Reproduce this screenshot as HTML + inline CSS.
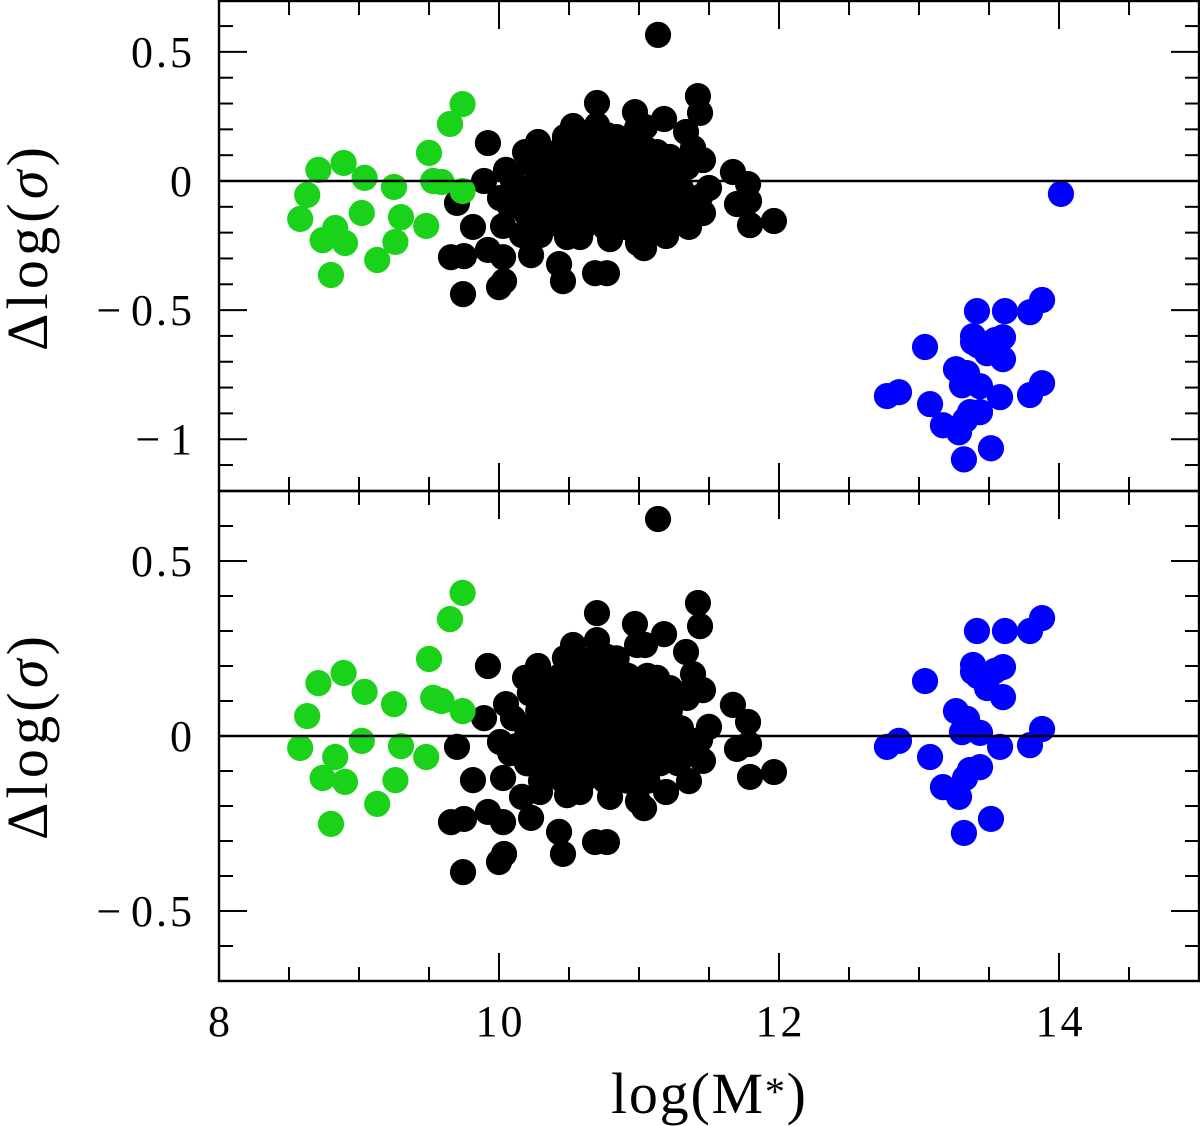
<!DOCTYPE html>
<html>
<head>
<meta charset="utf-8">
<title>Delta log sigma vs log stellar mass</title>
<style>
html,body{margin:0;padding:0;background:#fff;}
svg{display:block;font-family:"Liberation Serif","DejaVu Serif",serif;}
</style>
</head>
<body>
<svg id="chart" width="1200" height="1126" viewBox="0 0 1200 1126" xmlns="http://www.w3.org/2000/svg"></svg>
<script>
const xMajorTicks = [8, 10, 12, 14];
const xMinorTicks = [8.5, 9, 9.5, 10.5, 11, 11.5, 12.5, 13, 13.5, 14.5];
const xTickLabels = ["8", "10", "12", "14"];
const topMajorTicks = [0.5, 0, -0.5, -1];
const topTickLabels = ["0.5", "0", "\u2212\u200A0.5", "\u2212\u200A1"];
const topMinorTicks = [0.6, 0.4, 0.3, 0.2, 0.1, -0.1, -0.2, -0.3, -0.4, -0.6, -0.7, -0.8, -0.9, -1.1];
const bottomMajorTicks = [0.5, 0, -0.5];
const bottomTickLabels = ["0.5", "0", "\u2212\u200A0.5"];
const bottomMinorTicks = [0.6, 0.4, 0.3, 0.2, 0.1, -0.1, -0.2, -0.3, -0.4, -0.6];

const greenX = [8.58, 8.63, 8.71, 8.89, 9.04, 9.25, 9.5, 9.53, 9.59, 9.74, 9.65, 9.74, 9.02, 9.30, 9.48, 9.26, 9.13, 8.9, 8.74, 8.83, 8.8];
const greenTopY = [-0.147, -0.054, 0.043, 0.07, 0.012, -0.023, 0.109, 0, -0.004, -0.039, 0.221, 0.298, -0.124, -0.14, -0.174, -0.236, -0.306, -0.24, -0.229, -0.182, -0.364];
const greenBottomY = [-0.034, 0.057, 0.151, 0.18, 0.126, 0.091, 0.22, 0.109, 0.1, 0.071, 0.334, 0.409, -0.014, -0.029, -0.06, -0.126, -0.194, -0.131, -0.12, -0.06, -0.251];

const blueX = [13.414, 13.614, 13.793, 13.879, 13.386, 13.386, 13.6, 13.543, 13.471, 13.421, 13.486, 13.6, 13.043, 13.264, 13.343, 13.307, 13.436, 13.579, 13.879, 13.793, 12.857, 12.771, 13.079, 13.436, 13.364, 13.329, 13.171, 13.286, 13.514, 13.321, 14.014];
const blueTopY = [-0.504, -0.504, -0.508, -0.461, -0.601, -0.624, -0.605, -0.616, -0.643, -0.636, -0.667, -0.69, -0.643, -0.729, -0.744, -0.791, -0.795, -0.837, -0.783, -0.829, -0.818, -0.833, -0.864, -0.895, -0.895, -0.926, -0.946, -0.973, -1.035, -1.078, -0.05];
const blueBottomY = [0.3, 0.3, 0.3, 0.337, 0.203, 0.183, 0.197, 0.186, 0.16, 0.171, 0.137, 0.111, 0.157, 0.071, 0.049, 0.011, 0.009, -0.031, 0.02, -0.026, -0.014, -0.031, -0.06, -0.089, -0.097, -0.12, -0.146, -0.174, -0.237, -0.277, null];

const blackX = [11.136, 10.70, 10.971, 10.986, 11.043, 11.179, 11.421, 11.436, 11.336, 11.386, 11.457, 11.343, 11.129, 11.221, 9.921, 10.186, 10.279, 10.05, 9.893, 9.7, 10.007, 9.814, 10.029, 9.657, 9.75, 9.921, 10.029, 10.229, 10.429, 10.457, 10.686, 10.771, 9.743, 10.036, 10.0, 11.671, 11.779, 11.5, 11.436, 11.7, 11.786, 11.457, 11.793, 11.964, 11.357, 11.193, 11.036, 10.993, 10.793, 10.486, 10.579, 10.293, 10.164, 10.529, 10.7, 10.471, 10.771, 10.843, 10.957,
  10.52, 10.68, 10.84,
  10.3, 10.44, 10.6, 10.76, 10.92, 11.06,
  10.22, 10.38, 10.53, 10.69, 10.85, 11.0, 11.16, 11.27,
  10.1, 10.28, 10.45, 10.61, 10.77, 10.93, 11.08, 11.22,
  10.2, 10.36, 10.52, 10.68, 10.84, 11.0, 11.15, 11.3,
  10.08, 10.13, 10.27, 10.44, 10.6, 10.76, 10.92, 11.08, 11.23, 11.33,
  10.2, 10.36, 10.52, 10.68, 10.84, 11.0, 11.15, 11.28,
  10.3, 10.46, 10.6, 10.76, 10.92, 11.06];
const blackTopY = [0.566, 0.302, 0.267, 0.205, 0.209, 0.24, 0.329, 0.264, 0.19, 0.128, 0.081, 0.054, 0.112, 0.093, 0.147, 0.112, 0.151, 0.043, 0, -0.085, -0.066, -0.178, -0.174, -0.295, -0.291, -0.267, -0.295, -0.287, -0.322, -0.388, -0.357, -0.357, -0.438, -0.388, -0.411, 0.035, -0.012, -0.027, -0.062, -0.089, -0.078, -0.124, -0.171, -0.155, -0.178, -0.213, -0.26, -0.24, -0.225, -0.217, -0.217, -0.209, -0.209, 0.213, 0.217, 0.171, 0.178, 0.14, 0.112,
  0.17, 0.17, 0.17,
  0.12, 0.12, 0.12, 0.12, 0.12, 0.12,
  0.07, 0.07, 0.07, 0.07, 0.07, 0.07, 0.07, 0.07,
  0.0, 0.02, 0.02, 0.02, 0.02, 0.02, 0.02, 0.02,
  -0.03, -0.03, -0.03, -0.03, -0.03, -0.03, -0.03, -0.03,
  -0.1, -0.08, -0.08, -0.08, -0.08, -0.08, -0.08, -0.08, -0.08, -0.08,
  -0.13, -0.13, -0.13, -0.13, -0.13, -0.13, -0.13, -0.13,
  -0.18, -0.18, -0.18, -0.18, -0.18, -0.18];
const blackBottomY = [0.62, 0.351, 0.32, 0.26, 0.26, 0.291, 0.38, 0.314, 0.24, 0.177, 0.131, 0.109, 0.166, 0.137, 0.2, 0.166, 0.2, 0.091, 0.051, -0.031, -0.017, -0.126, -0.12, -0.246, -0.237, -0.217, -0.246, -0.234, -0.274, -0.337, -0.303, -0.303, -0.389, -0.337, -0.36, 0.089, 0.04, 0.026, -0.011, -0.037, -0.023, -0.071, -0.117, -0.103, -0.129, -0.16, -0.206, -0.186, -0.174, -0.169, -0.16, -0.16, -0.174, 0.26, 0.274, 0.223, 0.226, 0.197, 0.16,
  0.222, 0.222, 0.222,
  0.172, 0.172, 0.172, 0.172, 0.172, 0.172,
  0.122, 0.122, 0.122, 0.122, 0.122, 0.122, 0.122, 0.122,
  0.051, 0.072, 0.072, 0.072, 0.072, 0.072, 0.072, 0.072,
  0.022, 0.022, 0.022, 0.022, 0.022, 0.022, 0.022, 0.022,
  -0.049, -0.028, -0.028, -0.028, -0.028, -0.028, -0.028, -0.028, -0.028, -0.028,
  -0.078, -0.078, -0.078, -0.078, -0.078, -0.078, -0.078, -0.078,
  -0.128, -0.128, -0.128, -0.128, -0.128, -0.128];

const NS = "http://www.w3.org/2000/svg";
const svg = document.getElementById("chart");
const LEFT = 219, RIGHT = 1199, TOP = 1, MID = 491, BOTTOM = 981;
const DOT_R = 13.1;

function xScale(v) { return LEFT + (v - 8) * 140; }
function topScale(v) { return 181 - v * 258.2; }
function bottomScale(v) { return 736 - v * 350; }

function add(tag, attrs, parent) {
  const el = document.createElementNS(NS, tag);
  for (const k in attrs) el.setAttribute(k, attrs[k]);
  (parent || svg).appendChild(el);
  return el;
}
function line(x1, y1, x2, y2, w, parent) {
  const el = add("line", {x1: x1, y1: y1, x2: x2, y2: y2, stroke: "#000", "stroke-width": w}, parent);
  
  return el;
}

function drawDots(xs, ys, yFn, color, parent) {
  xs.forEach(function (v, i) {
    if (ys[i] === null) return;
    const c = add("circle", {cx: xScale(v), cy: yFn(ys[i]), r: DOT_R, fill: color}, parent);
    
    
  });
}

function drawPanel(name, yTop, yBottom, yFn, majors, labels, minors, blackY, greenY, blueY) {
  const g = add("g", {});
  
  

  drawDots(blackX, blackY, yFn, "#000000", g);
  drawDots(greenX, greenY, yFn, "#1ad21a", g);
  drawDots(blueX, blueY, yFn, "#0000ff", g);

  const zero = line(LEFT, yFn(0), RIGHT, yFn(0), 2.4, g);
  

  majors.forEach(function (v, i) {
    const y = yFn(v);
    const a = line(LEFT, y, LEFT + 28, y, 2, g);
    
    const b = line(RIGHT - 28, y, RIGHT, y, 2, g);
    
    const t = add("text", {x: 195, y: y + 15, "text-anchor": "end", "font-size": 44, "letter-spacing": 3, fill: "#000"}, g);
    t.textContent = labels[i];
    
    
  });
  minors.forEach(function (v) {
    const y = yFn(v);
    const a = line(LEFT, y, LEFT + 14, y, 2, g);
    
    const b = line(RIGHT - 14, y, RIGHT, y, 2, g);
    
  });
  xMajorTicks.forEach(function (v) {
    const x = xScale(v);
    if (v === 8) return;
    const a = line(x, yTop, x, yTop + 28, 2, g);
    
    const b = line(x, yBottom - 28, x, yBottom, 2, g);
    
  });
  xMinorTicks.forEach(function (v) {
    const x = xScale(v);
    const a = line(x, yTop, x, yTop + 14, 2, g);
    
    const b = line(x, yBottom - 14, x, yBottom, 2, g);
    
  });
  const frame = add("rect", {x: LEFT, y: yTop, width: RIGHT - LEFT, height: yBottom - yTop, fill: "none", stroke: "#000", "stroke-width": 2.4}, g);
  
  
}

drawPanel("top", TOP, MID, topScale, topMajorTicks, topTickLabels, topMinorTicks, blackTopY, greenTopY, blueTopY);
drawPanel("bottom", MID, BOTTOM, bottomScale, bottomMajorTicks, bottomTickLabels, bottomMinorTicks, blackBottomY, greenBottomY, blueBottomY);

xMajorTicks.forEach(function (v, i) {
  const t = add("text", {x: xScale(v) + 1.5, y: 1036, "text-anchor": "middle", "font-size": 44, "letter-spacing": 3, fill: "#000"});
  t.textContent = xTickLabels[i];
  
  
});
</script>
<script>
(function () {
  const s = document.getElementById("chart");
  const NS2 = "http://www.w3.org/2000/svg";
  function yLabel(startY, name) {
    const t = document.createElementNS(NS2, "text");
    t.setAttribute("transform", "translate(47," + startY + ") rotate(-90)");
    t.setAttribute("font-size", "58");
    t.setAttribute("fill", "#000");
    t.setAttribute("textLength", "204");
    t.setAttribute("lengthAdjust", "spacing");
    t.appendChild(document.createTextNode("\u0394log("));
    const sig = document.createElementNS(NS2, "tspan");
    sig.setAttribute("font-style", "italic");
    sig.textContent = "\u03C3";
    t.appendChild(sig);
    t.appendChild(document.createTextNode(")"));
    
    
    s.appendChild(t);
  }
  yLabel(351, 'top-y-axis-title');
  yLabel(840, 'bottom-y-axis-title');
})();
</script>
<script>
(function () {
  const s = document.getElementById("chart");
  const t = document.createElementNS("http://www.w3.org/2000/svg", "text");
  t.setAttribute("x", "611");
  t.setAttribute("y", "1113");
  t.setAttribute("font-size", "58");
  t.setAttribute("fill", "#000");
  t.setAttribute("textLength", "195");
  t.setAttribute("lengthAdjust", "spacing");
  t.textContent = "log(M";
  const star = document.createElementNS("http://www.w3.org/2000/svg", "tspan");
  star.setAttribute("dy", "-8");
  star.setAttribute("font-size", "40");
  star.textContent = "*";
  t.appendChild(star);
  const close = document.createElementNS("http://www.w3.org/2000/svg", "tspan");
  close.setAttribute("dy", "8");
  close.textContent = ")";
  t.appendChild(close);
  
  
  s.appendChild(t);
})();
</script>
</body>
</html>
